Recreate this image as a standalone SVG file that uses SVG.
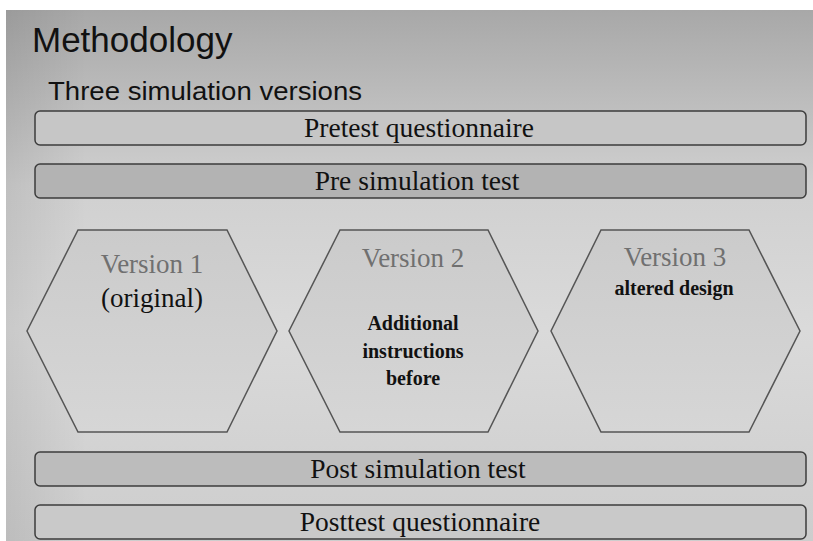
<svg xmlns="http://www.w3.org/2000/svg" width="813" height="541" viewBox="0 0 813 541">
  <defs>
    <linearGradient id="bg" x1="0" y1="0" x2="0" y2="1">
      <stop offset="0" stop-color="#a8a8a8"/>
      <stop offset="0.33" stop-color="#d0d0d0"/>
      <stop offset="0.6" stop-color="#dadada"/>
      <stop offset="1" stop-color="#cdcdcd"/>
    </linearGradient>
    <linearGradient id="side" x1="0" y1="0" x2="1" y2="0">
      <stop offset="0" stop-color="#000" stop-opacity="0.08"/>
      <stop offset="0.1" stop-color="#000" stop-opacity="0"/>
    </linearGradient>
    <linearGradient id="hexfill" x1="0" y1="0" x2="0" y2="1">
      <stop offset="0" stop-color="#cbcbcb"/>
      <stop offset="1" stop-color="#d6d6d6"/>
    </linearGradient>
  </defs>
  <style>
    .bar { stroke: #3d3d3d; stroke-width: 1.5; }
    .bartext { font-family: "Liberation Serif", "Times New Roman", serif; font-size: 27.5px; fill: #111; text-anchor: middle; }
    .hex { fill: url(#hexfill); stroke: #555; stroke-width: 1.5; }
    .vt { font-family: "Liberation Serif", "Times New Roman", serif; font-size: 27px; fill: #707070; text-anchor: middle; }
    .sub { font-family: "Liberation Serif", "Times New Roman", serif; font-size: 27px; fill: #111; text-anchor: middle; }
    .bold { font-family: "Liberation Serif", "Times New Roman", serif; font-size: 20px; font-weight: bold; fill: #111; text-anchor: middle; }
    .sans { font-family: "Liberation Sans", Arial, sans-serif; fill: #111; }
  </style>
  <rect x="0" y="0" width="813" height="541" fill="#ffffff"/>
  <rect x="6" y="10" width="807" height="531" fill="url(#bg)"/>
  <rect x="6" y="10" width="807" height="531" fill="url(#side)"/>

  <g id="title">
    <text class="sans" x="32" y="52" font-size="35">Methodology</text>
    <text class="sans" x="48" y="100" font-size="26" textLength="314" lengthAdjust="spacingAndGlyphs">Three simulation versions</text>
  </g>

  <g id="pretest-questionnaire">
    <rect class="bar" x="35" y="111" width="771" height="34" rx="5" fill="#c6c6c6"/>
    <text class="bartext" x="419" y="137">Pretest questionnaire</text>
  </g>
  <g id="pre-simulation-test">
    <rect class="bar" x="35" y="164" width="771" height="34" rx="5" fill="#b3b3b3"/>
    <text class="bartext" x="417" y="190">Pre simulation test</text>
  </g>

  <g id="version-1">
    <polygon class="hex" points="78,230 227,230 277,331 227,432 78,432 27,331"/>
    <text class="vt" x="152" y="273">Version 1</text>
    <text class="sub" x="152" y="307">(original)</text>
  </g>
  <g id="version-2">
    <polygon class="hex" points="340,230 488,230 538,331 488,432 340,432 289,331"/>
    <text class="vt" x="413" y="267">Version 2</text>
    <text class="bold" x="413" y="330">Additional</text>
    <text class="bold" x="413" y="358">instructions</text>
    <text class="bold" x="413" y="385">before</text>
  </g>
  <g id="version-3">
    <polygon class="hex" points="601,230 749,230 800,331 749,432 601,432 551,331"/>
    <text class="vt" x="675" y="266">Version 3</text>
    <text class="bold" x="674" y="295" font-size="21">altered design</text>
  </g>

  <g id="post-simulation-test">
    <rect class="bar" x="35" y="452" width="771" height="34" rx="5" fill="#bcbcbc"/>
    <text class="bartext" x="418" y="478">Post simulation test</text>
  </g>
  <g id="posttest-questionnaire">
    <rect class="bar" x="35" y="505" width="771" height="34" rx="5" fill="#c9c9c9"/>
    <text class="bartext" x="420" y="531">Posttest questionnaire</text>
  </g>

  <g id="connectors"/>
</svg>
